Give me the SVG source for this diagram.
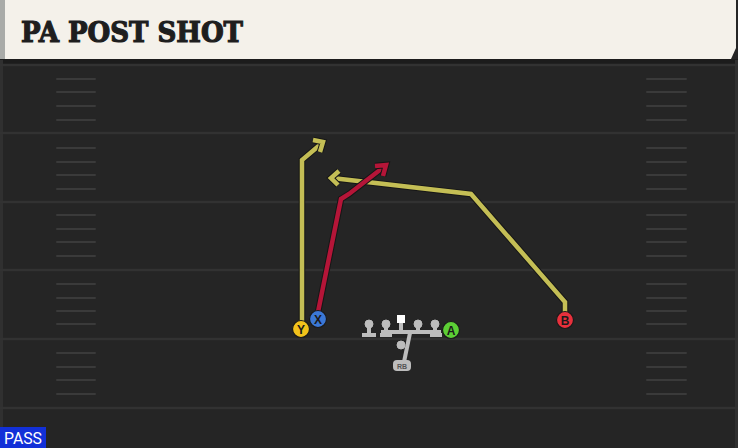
<svg xmlns="http://www.w3.org/2000/svg" width="738" height="448" viewBox="0 0 738 448">
<defs>
<style>
.yl{stroke:#323232;stroke-width:2.5}
.hs{stroke:#3a3a3a;stroke-width:2;stroke-linecap:round}
.rt-bg{fill:none;stroke:#161616;stroke-width:6.5;stroke-linejoin:miter;stroke-linecap:butt}
.ry{fill:none;stroke:#c4be55;stroke-width:4.5;stroke-linejoin:miter;stroke-linecap:butt}
.rr{fill:none;stroke:#b51538;stroke-width:4.5;stroke-linejoin:miter;stroke-linecap:butt}
.pl{stroke:#1a1a1a;stroke-width:1.2}
.pt{font-family:"Liberation Sans",Arial,sans-serif;font-weight:bold;font-size:12px;fill:#1a1a1a;text-anchor:middle}
.ol{fill:#bdbdbd;stroke:#bdbdbd}
</style>
</defs>
<rect width="738" height="448" fill="#252525"/>
<rect x="0" y="59" width="738" height="5" fill="#1c1c1c"/>
<rect x="0" y="60" width="3" height="388" fill="#303030"/>
<rect x="735" y="60" width="3" height="388" fill="#303030"/>
<g id="field">
<line class="yl" x1="0" y1="65" x2="738" y2="65"/>
<line class="yl" x1="0" y1="133" x2="738" y2="133"/>
<line class="yl" x1="0" y1="202" x2="738" y2="202"/>
<line class="yl" x1="0" y1="270" x2="738" y2="270"/>
<line class="yl" x1="0" y1="339" x2="738" y2="339"/>
<line class="yl" x1="0" y1="408" x2="738" y2="408"/>
<g id="hashes">
<path class="hs" d="M57 79H95M57 92H95M57 106H95M57 120H95M57 148H95M57 162H95M57 175H95M57 189H95M57 215H95M57 229H95M57 242H95M57 256H95M57 284H95M57 298H95M57 311H95M57 324H95M57 353H95M57 367H95M57 380H95M57 394H95"/>
<path class="hs" d="M647 79H686M647 92H686M647 106H686M647 120H686M647 148H686M647 162H686M647 175H686M647 189H686M647 215H686M647 229H686M647 242H686M647 256H686M647 284H686M647 298H686M647 311H686M647 324H686M647 353H686M647 367H686M647 380H686M647 394H686"/>
</g>
</g>
<g id="header">
<path d="M0 0H736V48L731 59H0Z" fill="#f4f1ea"/>
<rect x="0" y="0" width="5" height="59" fill="#a9aba8"/>
<text x="21" y="42" font-family="'DejaVu Serif',serif" font-weight="bold" font-size="28" textLength="222" lengthAdjust="spacingAndGlyphs" fill="#1e1e1e" stroke="#1e1e1e" stroke-width="1.2">PA POST SHOT</text>
</g>
<g id="connectors">
<path class="rt-bg" d="M302 322V160L321 144"/>
<path class="ry" d="M302 322V160L321 144"/>
<path class="rt-bg" d="M313 140L323 142L320 152"/>
<path class="ry" d="M313 140L323 142L320 152"/>
<path class="rt-bg" d="M565 312V302L471 194L332 178"/>
<path class="ry" d="M565 312V302L471 194L332 178"/>
<path class="rt-bg" d="M339 171L331 178L338 185"/>
<path class="ry" d="M339 171L331 178L338 185"/>
<path class="rt-bg" d="M318 312L341 199L349 194L385 166"/>
<path class="rr" d="M318 312L341 199L349 194L385 166"/>
<path class="rt-bg" d="M375 166L386 165L383 176"/>
<path class="rr" d="M375 166L386 165L383 176"/>
</g>
<g id="oline">
<line class="ol" x1="369" y1="324" x2="369" y2="335" stroke-width="4"/>
<line class="ol" x1="362" y1="335" x2="376" y2="335" stroke-width="4"/>
<circle class="ol" cx="369" cy="324" r="4"/>
<line class="ol" x1="381" y1="332" x2="441" y2="332" stroke-width="4"/>
<line class="ol" x1="380" y1="335" x2="392" y2="335" stroke-width="4"/>
<line class="ol" x1="430" y1="335" x2="442" y2="335" stroke-width="4"/>
<line class="ol" x1="386" y1="324" x2="386" y2="332" stroke-width="4"/>
<circle class="ol" cx="386" cy="324" r="4"/>
<line class="ol" x1="401" y1="320" x2="401" y2="332" stroke-width="4"/>
<rect x="397" y="315" width="8" height="8" fill="#ffffff"/>
<line class="ol" x1="418" y1="324" x2="418" y2="332" stroke-width="4"/>
<circle class="ol" cx="418" cy="324" r="4"/>
<line class="ol" x1="435" y1="324" x2="435" y2="332" stroke-width="4"/>
<circle class="ol" cx="435" cy="324" r="4"/>
</g>
<g id="RB">
<line class="ol" x1="404" y1="362" x2="410" y2="333" stroke-width="4"/>
<circle class="ol" cx="401" cy="345" r="4"/>
<rect x="393" y="360" width="18" height="11" rx="4" fill="#bdbdbd"/>
<text x="402" y="369" font-family="'Liberation Sans',Arial,sans-serif" font-size="7" font-weight="bold" fill="#555" text-anchor="middle">RB</text>
</g>
<g id="Y">
<circle cx="301" cy="329" r="8.5" fill="#f2c21b" class="pl"/>
<text class="pt" x="301" y="333.5">Y</text>
</g>
<g id="X">
<circle cx="318" cy="319" r="8.5" fill="#3b78d6" class="pl"/>
<text class="pt" x="318" y="323.5">X</text>
</g>
<g id="A">
<circle cx="451" cy="330" r="8.5" fill="#5ccf35" class="pl"/>
<text class="pt" x="451" y="334.5">A</text>
</g>
<g id="B">
<circle cx="565" cy="320" r="8.5" fill="#e8303c" class="pl"/>
<text class="pt" x="565" y="324.5">B</text>
</g>
<g id="pass">
<rect x="0" y="427" width="46" height="21" fill="#1230d8"/>
<text x="23" y="444" font-family="Roboto,'Liberation Sans',sans-serif" font-size="17" fill="#ffffff" text-anchor="middle" textLength="38" lengthAdjust="spacingAndGlyphs">PASS</text>
</g>
</svg>
